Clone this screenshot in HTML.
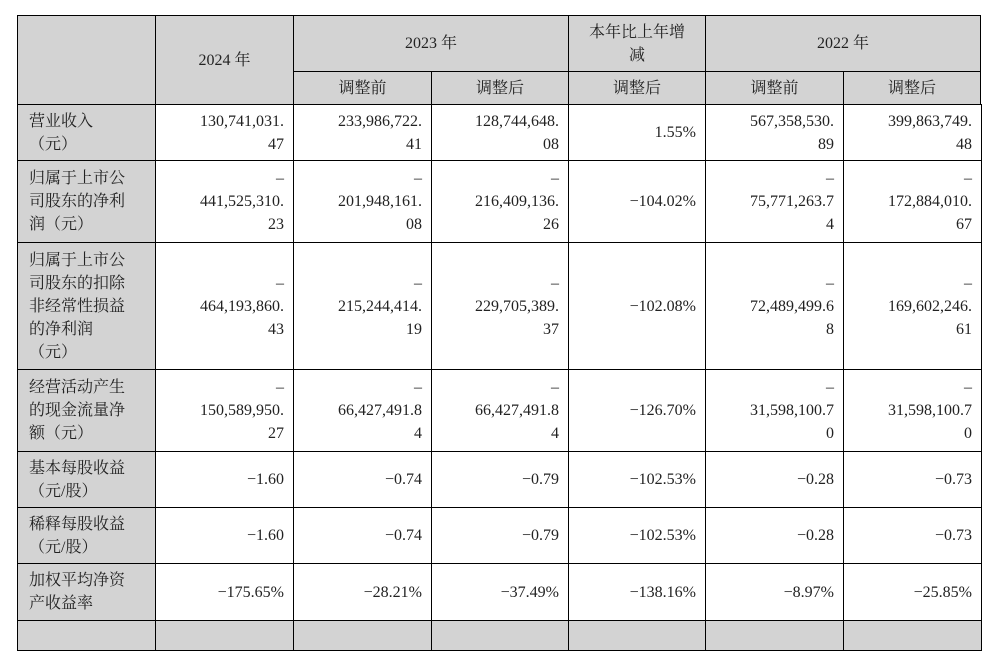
<!DOCTYPE html>
<html><head><meta charset="utf-8"><style>
body{margin:0;width:990px;height:624px;background:#fff;overflow:hidden;font-family:"Liberation Serif","Noto Serif CJK SC",serif;font-size:16px;color:#222}
.c{position:absolute;box-sizing:border-box;border:1px solid #000;display:flex;flex-direction:column;justify-content:center;line-height:23px;padding:0 9px}
.g{background:#d3d3d3}
.h{align-items:center;text-align:center}
.r{align-items:flex-end;text-align:right}
.l{align-items:flex-start;text-align:left;padding-left:11px}
</style></head><body>
<div>
<div class="c g h" style="left:17px;top:15px;width:139px;height:90px"></div>
<div class="c g h" style="left:155px;top:15px;width:139px;height:90px">2024 年</div>
<div class="c g h" style="left:293px;top:15px;width:276px;height:57px">2023 年</div>
<div class="c g h" style="left:568px;top:15px;width:138px;height:57px">本年比上年增<br>减</div>
<div class="c g h" style="left:705px;top:15px;width:276px;height:57px">2022 年</div>
<div class="c g h" style="left:293px;top:71px;width:139px;height:34px">调整前</div>
<div class="c g h" style="left:431px;top:71px;width:138px;height:34px">调整后</div>
<div class="c g h" style="left:568px;top:71px;width:138px;height:34px">调整后</div>
<div class="c g h" style="left:705px;top:71px;width:139px;height:34px">调整前</div>
<div class="c g h" style="left:843px;top:71px;width:138px;height:34px">调整后</div>
<div id="body"></div>
</div>
<script>
const cols=[17,155,293,431,568,705,843,981];
const rows=[104,160,242,369,451,507,563,620,650];
const labels=["营业收入<br>（元）","归属于上市公司<br>司股东的净利<br>润（元）","归属于上市公司<br>司股东的扣除<br>非经常性损益<br>的净利润<br>（元）","经营活动产生<br>的现金流量净<br>额（元）","基本每股收益<br>（元/股）","稀释每股收益<br>（元/股）","加权平均净资<br>产收益率",""];
const values=[
["130,741,031.<br>47","233,986,722.<br>41","128,744,648.<br>08","1.55%","567,358,530.<br>89","399,863,749.<br>48"],
["–<br>441,525,310.<br>23","–<br>201,948,161.<br>08","–<br>216,409,136.<br>26","-104.02%","–<br>75,771,263.7<br>4","–<br>172,884,010.<br>67"],
["–<br>464,193,860.<br>43","–<br>215,244,414.<br>19","–<br>229,705,389.<br>37","-102.08%","–<br>72,489,499.6<br>8","–<br>169,602,246.<br>61"],
["–<br>150,589,950.<br>27","–<br>66,427,491.8<br>4","–<br>66,427,491.8<br>4","-126.70%","–<br>31,598,100.7<br>0","–<br>31,598,100.7<br>0"],
["-1.60","-0.74","-0.79","-102.53%","-0.28","-0.73"],
["-1.60","-0.74","-0.79","-102.53%","-0.28","-0.73"],
["-175.65%","-28.21%","-37.49%","-138.16%","-8.97%","-25.85%"],
["","","","","",""]];
labels[1]="归属于上市公<br>司股东的净利<br>润（元）";
labels[2]="归属于上市公<br>司股东的扣除<br>非经常性损益<br>的净利润<br>（元）";
const body=document.getElementById('body');
for(let i=0;i<labels.length;i++){
  const top=rows[i],h=rows[i+1]-rows[i]+1;
  const lc=document.createElement('div');
  
  
  lc.className='c g l';
  lc.style.cssText=`left:${cols[0]}px;top:${top}px;width:${cols[1]-cols[0]+1}px;height:${h}px`;
  lc.innerHTML=labels[i];body.appendChild(lc);
  for(let j=0;j<6;j++){
    const d=document.createElement('div');
    
    
    d.className='c r'+(i===7?' g':'');
    d.style.cssText=`left:${cols[j+1]}px;top:${top}px;width:${cols[j+2]-cols[j+1]+1}px;height:${h}px`;
    d.innerHTML=values[i][j].replace(/-/g,'−');body.appendChild(d);
  }
}
</script>
</body></html>
